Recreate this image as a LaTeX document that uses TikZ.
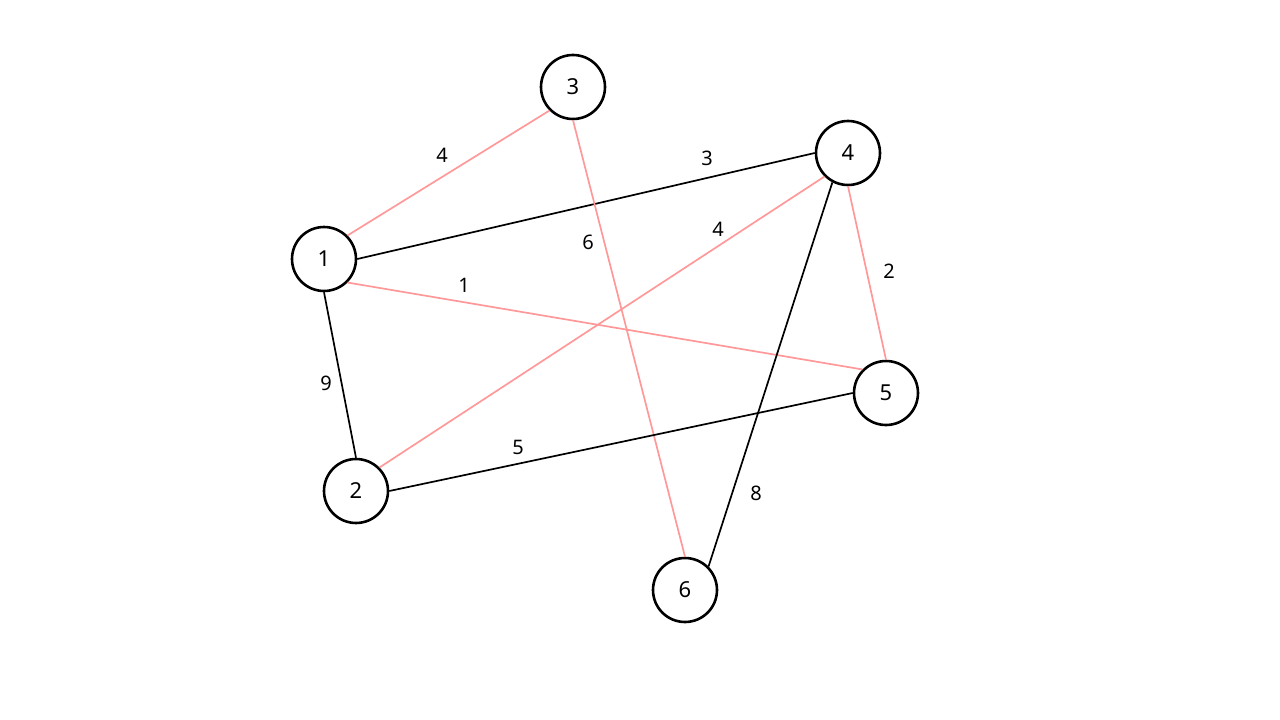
\documentclass[tikz,border=0pt]{standalone}
\usepackage{fontspec}
\setmainfont{Noto Sans}
\definecolor{pinkedge}{RGB}{255,153,153}
\begin{document}
\begin{tikzpicture}[x=1pt,y=-1pt,
  vert/.style={circle,draw=black,line width=2.6pt,minimum size=64pt,inner sep=0pt,fill=white,font=\fontsize{22}{22}\selectfont},
  blk/.style={draw=black,line width=1.7pt},
  pnk/.style={draw=pinkedge,line width=1.7pt},
  lbl/.style={font=\fontsize{20}{20}\selectfont,inner sep=0pt}]
\useasboundingbox (0,0) rectangle (1280,720);
\node[vert] (n1) at (324,259) {1};
\node[vert] (n2) at (356,491) {2};
\node[vert] (n3) at (573,87) {3};
\node[vert] (n4) at (848,153) {4};
\node[vert] (n5) at (886,393) {5};
\node[vert] (n6) at (685,590) {6};
\draw[pnk] (n1.north east) -- (n3.south west);
\draw[blk] (n1.east) -- (n4.west);
\draw[pnk] (n1.south east) -- (n5.north west);
\draw[blk] (n1.south) -- (n2.north);
\draw[pnk] (n3.south) -- (n6.north);
\draw[pnk] (n4.south west) -- (n2.north east);
\draw[pnk] (n4.south) -- (n5.north);
\draw[blk] (n4.-118) -- (n6.north east);
\draw[blk] (n2.east) -- (n5.west);
\node[lbl] (l13) at (442,155) {4};
\node[lbl] (l14) at (707,158) {3};
\node[lbl] (l15) at (464,285) {1};
\node[lbl] (l12) at (326,383) {9};
\node[lbl] (l36) at (588,242) {6};
\node[lbl] (l42) at (718,229) {4};
\node[lbl] (l45) at (889,271) {2};
\node[lbl] (l46) at (756,493) {8};
\node[lbl] (l25) at (518,447) {5};
\end{tikzpicture}
\end{document}
